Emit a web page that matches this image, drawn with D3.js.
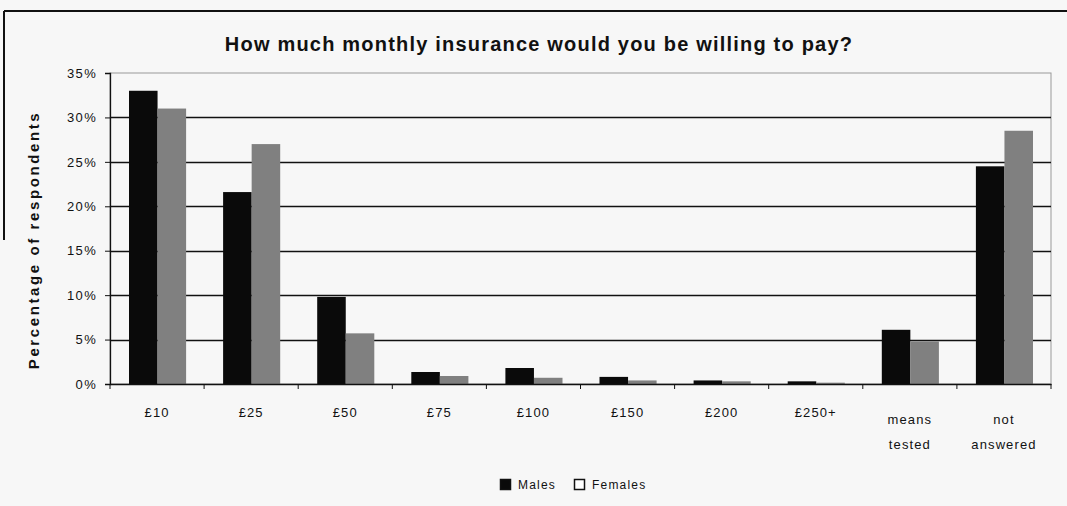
<!DOCTYPE html>
<html>
<head>
<meta charset="utf-8">
<script src="https://cdn.jsdelivr.net/npm/d3@7"></script>
<style>
  html, body { margin: 0; padding: 0; background: #f7f7f7; }
  #chart { width: 1067px; height: 506px; }
  text { font-family: "Liberation Sans", Arial, sans-serif; fill: #111; }
</style>
</head>
<body>
<div id="chart"></div>
<script>
// Data
const categories = ['£10', '£25', '£50', '£75', '£100', '£150', '£200', '£250+', 'means tested', 'not answered'];
const males = [33, 21.6, 9.8, 1.35, 1.8, 0.8, 0.4, 0.3, 6.1, 24.5];
const females = [31, 27, 5.7, 0.9, 0.7, 0.4, 0.3, 0.15, 4.8, 28.5];
const yTicks = [0, 5, 10, 15, 20, 25, 30, 35];
const seriesNames = ['Males', 'Females'];
const seriesColors = ['#0a0a0a', '#808080'];

const W = 1067, H = 506;
const margin = { top: 73, right: 16, bottom: 122, left: 110 };
const width = W - margin.left - margin.right;
const height = H - margin.top - margin.bottom;

const root = d3.select('#chart')
    .append('svg')
    .attr('width', W)
    .attr('height', H);

// outer frame (scanned edges)
root.append('line')
    .attr('x1', 4).attr('x2', W).attr('y1', 11).attr('y2', 11)
    .attr('stroke', '#111').attr('stroke-width', 2);
root.append('line')
    .attr('x1', 4).attr('x2', 4).attr('y1', 11).attr('y2', 240)
    .attr('stroke', '#111').attr('stroke-width', 2);

// title
root.append('text')
    .attr('x', 539)
    .attr('y', 51)
    .attr('text-anchor', 'middle')
    .style('font-size', '20px')
    .style('font-weight', 'bold')
    .style('letter-spacing', '1.2px')
    .text('How much monthly insurance would you be willing to pay?');

const svg = root.append('g')
    .attr('transform', `translate(${margin.left},${margin.top})`);

// scales
const x0 = d3.scaleBand()
    .domain(categories)
    .range([0, width])
    .paddingInner(0)
    .paddingOuter(0);

const x1 = d3.scaleBand()
    .domain(seriesNames)
    .range([19, x0.bandwidth() - 18]);

const y = d3.scaleLinear()
    .domain([0, 35])
    .range([height, 0]);

// plot border
svg.append('rect')
    .attr('x', 0).attr('y', 0)
    .attr('width', width).attr('height', height)
    .attr('fill', 'none')
    .attr('stroke', '#999')
    .attr('stroke-width', 1);

// grid lines
svg.append('g')
    .attr('class', 'grid-lines')
    .selectAll('line')
    .data(yTicks.filter(d => d > 0 && d < 35))
    .enter()
    .append('line')
    .attr('x1', 0)
    .attr('x2', width)
    .attr('y1', d => Math.round(y(d)) + 0.5)
    .attr('y2', d => Math.round(y(d)) + 0.5)
    .attr('stroke', '#111')
    .attr('stroke-width', 1.3);

// bars
const groups = svg.selectAll('.cat')
    .data(categories)
    .enter()
    .append('g')
    .attr('class', 'cat')
    .attr('transform', d => `translate(${x0(d)},0)`);

groups.selectAll('rect')
    .data((d, i) => [
        { s: 'Males', v: males[i] },
        { s: 'Females', v: females[i] }
    ])
    .enter()
    .append('rect')
    .attr('x', d => x1(d.s))
    .attr('width', x1.bandwidth())
    .attr('y', d => y(d.v))
    .attr('height', d => height - y(d.v))
    .attr('fill', d => seriesColors[seriesNames.indexOf(d.s)]);

// y axis
const yAxis = svg.append('g')
    .attr('class', 'y-axis')
    .call(d3.axisLeft(y).tickValues(yTicks).tickSize(5).tickFormat(d => d + '%'));
yAxis.select('.domain').attr('stroke', '#111').attr('stroke-width', 1.3);
yAxis.selectAll('.tick line').attr('stroke', '#111');
yAxis.selectAll('text')
    .attr('x', -13)
    .style('font-size', '13px')
    .style('letter-spacing', '1.3px')
    .style('font-family', '"Liberation Sans", Arial, sans-serif');

// x axis
const xAxis = svg.append('g')
    .attr('class', 'x-axis')
    .attr('transform', `translate(0,${height})`)
    .call(d3.axisBottom(x0).tickSize(0).tickFormat(''));
xAxis.select('.domain').attr('stroke', '#111').attr('stroke-width', 1.3);

svg.append('g')
    .selectAll('line')
    .data(d3.range(categories.length + 1))
    .enter()
    .append('line')
    .attr('x1', i => i * x0.step())
    .attr('x2', i => i * x0.step())
    .attr('y1', height)
    .attr('y2', height + 5)
    .attr('stroke', '#111');

// category labels
const labels = svg.append('g')
    .selectAll('text')
    .data(categories)
    .enter()
    .append('text')
    .attr('text-anchor', 'middle')
    .attr('transform', d => `translate(${x0(d) + x0.bandwidth() / 2},0)`)
    .style('font-size', '13px')
    .style('letter-spacing', '1.1px');

labels.each(function(d) {
    const words = d.split(' ');
    const t = d3.select(this);
    if (words.length === 1) {
        t.append('tspan').attr('x', 0).attr('y', height + 33).text(d);
    } else {
        words.forEach((w, i) => {
            t.append('tspan').attr('x', 0).attr('y', height + 40 + i * 25).text(w);
        });
    }
});

// y axis label
root.append('text')
    .attr('transform', 'rotate(-90)')
    .attr('x', -240)
    .attr('y', 39)
    .attr('text-anchor', 'middle')
    .style('font-size', '15px')
    .style('font-weight', 'bold')
    .style('letter-spacing', '2.6px')
    .text('Percentage of respondents');

// legend
const legend = root.append('g')
    .attr('transform', 'translate(500,479)');

const legendItems = [
    { name: seriesNames[0], x: 0, fill: seriesColors[0] },
    { name: seriesNames[1], x: 74, fill: '#ffffff' }
];

legendItems.forEach(item => {
    legend.append('rect')
        .attr('x', item.x + 0.5)
        .attr('y', 0.5)
        .attr('width', 10)
        .attr('height', 10)
        .attr('fill', item.fill)
        .attr('stroke', '#111')
        .attr('stroke-width', 1.5);
    legend.append('text')
        .attr('x', item.x + 18)
        .attr('y', 10)
        .style('font-size', '12px')
        .style('letter-spacing', '1.2px')
        .text(item.name);
});
</script>
</body>
</html>
